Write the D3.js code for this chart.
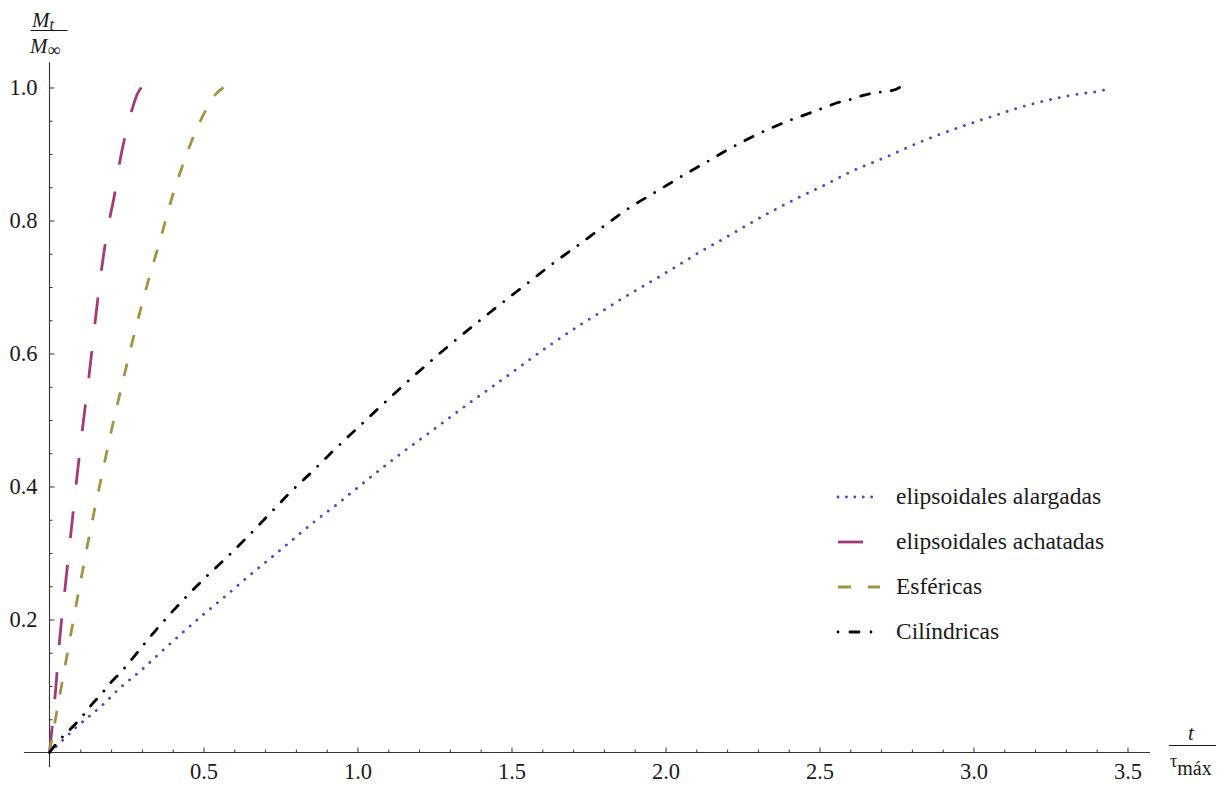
<!DOCTYPE html>
<html>
<head>
<meta charset="utf-8">
<script src="https://cdn.jsdelivr.net/npm/d3@7"></script>
<style>
  html, body { margin: 0; padding: 0; background: #fff; }
  svg { display: block; }
  text { font-family: "Liberation Serif", "Times New Roman", serif; }
</style>
</head>
<body>
<svg id="chart" width="1228" height="789"></svg>
<script>
// ---------------- DATA ----------------
const seriesNames = ["elipsoidales alargadas", "elipsoidales achatadas", "Esféricas", "Cilíndricas"];

// elipsoidales alargadas (blue, dotted)
const alargadasX = [0, 0.025, 0.093, 0.164, 0.229, 0.300, 0.368, 0.506, 0.576, 0.646, 0.717, 0.787, 0.857, 0.930, 1.002, 1.075, 1.148, 1.222, 1.296, 1.369, 1.445, 1.642, 1.723, 1.799, 1.875, 1.956, 2.032, 2.113, 2.194, 2.272, 2.350, 2.434, 2.515, 2.600, 2.714, 2.827, 2.941, 3.057, 3.173, 3.292, 3.352, 3.414, 3.45];
const alargadasY = [0, 0.0105, 0.0405, 0.068, 0.097, 0.1246, 0.1536, 0.210, 0.237, 0.265, 0.292, 0.319, 0.346, 0.372, 0.399, 0.426, 0.452, 0.477, 0.5025, 0.5275, 0.5525, 0.618, 0.643, 0.665, 0.687, 0.709, 0.730, 0.753, 0.774, 0.795, 0.815, 0.835, 0.853, 0.873, 0.895, 0.918, 0.938, 0.956, 0.973, 0.986, 0.991, 0.995, 1.0];

// elipsoidales achatadas (magenta, long dashes)
const achatadasX = [0, 0.01, 0.02, 0.035, 0.05, 0.07, 0.09, 0.11, 0.13, 0.15, 0.17, 0.19, 0.21, 0.23, 0.25, 0.27, 0.285, 0.298];
const achatadasY = [0, 0.045, 0.095, 0.18, 0.245, 0.332, 0.418, 0.498, 0.573, 0.655, 0.73, 0.79, 0.836, 0.893, 0.935, 0.970, 0.99, 1.0];

// Esféricas (olive, dashes)
const esfericasX = [0, 0.02, 0.04, 0.07, 0.10, 0.13, 0.16, 0.20, 0.24, 0.28, 0.32, 0.36, 0.40, 0.44, 0.48, 0.51, 0.54, 0.565];
const esfericasY = [0, 0.052, 0.103, 0.18, 0.255, 0.328, 0.395, 0.482, 0.562, 0.638, 0.708, 0.772, 0.838, 0.893, 0.940, 0.968, 0.990, 1.0];

// Cilíndricas (black, dot-dash)
const cilindricasX = [0, 0.034, 0.069, 0.105, 0.135, 0.170, 0.200, 0.232, 0.267, 0.300, 0.499, 0.570, 0.642, 0.711, 0.779, 0.852, 0.922, 0.993, 1.068, 1.144, 1.300, 1.450, 1.550, 1.642, 1.723, 1.804, 1.886, 1.972, 2.058, 2.145, 2.189, 2.300, 2.400, 2.459, 2.505, 2.551, 2.600, 2.649, 2.698, 2.747, 2.76];
const cilindricasY = [0, 0.0195, 0.0356, 0.0536, 0.071, 0.0886, 0.1056, 0.121, 0.140, 0.159, 0.260, 0.291, 0.324, 0.357, 0.390, 0.422, 0.454, 0.485, 0.5175, 0.550, 0.613, 0.669, 0.705, 0.738, 0.765, 0.793, 0.820, 0.844, 0.868, 0.891, 0.903, 0.930, 0.950, 0.960, 0.968, 0.976, 0.982, 0.989, 0.993, 0.997, 1.0];

const xMajorTicks = [0.5, 1.0, 1.5, 2.0, 2.5, 3.0, 3.5];
const xMinorTicks = [0.1, 0.2, 0.3, 0.4, 0.6, 0.7, 0.8, 0.9, 1.1, 1.2, 1.3, 1.4, 1.6, 1.7, 1.8, 1.9, 2.1, 2.2, 2.3, 2.4, 2.6, 2.7, 2.8, 2.9, 3.1, 3.2, 3.3, 3.4];
const yMajorTicks = [0.2, 0.4, 0.6, 0.8, 1.0];
const yMinorTicks = [0.05, 0.1, 0.15, 0.25, 0.3, 0.35, 0.45, 0.5, 0.55, 0.65, 0.7, 0.75, 0.85, 0.9, 0.95];

// ---------------- CHART ----------------
const svg = d3.select("#chart");
svg.append("rect").attr("width", 1228).attr("height", 789).attr("fill", "#fff");

const x = d3.scaleLinear().domain([0, 3.5]).range([49.5, 49.5 + 308 * 3.5]);
const y = d3.scaleLinear().domain([0, 1]).range([752.5, 87.5]);

const axisColor = "#333";
const labelColor = "#1a1a1a";

// axis lines (extending slightly beyond the data range)
svg.append("line")
  .attr("x1", x(-0.083)).attr("x2", x(3.573))
  .attr("y1", y(0)).attr("y2", y(0))
  .attr("stroke", axisColor).attr("stroke-width", 1.1);
svg.append("line")
  .attr("x1", x(0)).attr("x2", x(0))
  .attr("y1", y(-0.022)).attr("y2", y(1.038))
  .attr("stroke", axisColor).attr("stroke-width", 1.1);

function styleAxis(g) {
  g.select(".domain").remove();
  g.selectAll(".tick line").attr("stroke", axisColor).attr("stroke-width", 1);
  g.selectAll(".tick text")
    .attr("fill", labelColor)
    .style("font-family", '"Liberation Serif", "Times New Roman", serif')
    .style("font-size", "22.5px");
}

// x axis
svg.append("g").attr("transform", `translate(0,${y(0)})`)
  .call(d3.axisBottom(x).tickValues(xMinorTicks).tickSize(-3).tickFormat(""))
  .call(styleAxis);
svg.append("g").attr("transform", `translate(0,${y(0)})`)
  .call(d3.axisBottom(x).tickValues(xMajorTicks).tickSize(-5).tickPadding(11).tickFormat(d3.format(".1f")))
  .call(styleAxis);

// y axis
svg.append("g").attr("transform", `translate(${x(0)},0)`)
  .call(d3.axisLeft(y).tickValues(yMinorTicks).tickSize(-3).tickFormat(""))
  .call(styleAxis);
svg.append("g").attr("transform", `translate(${x(0)},0)`)
  .call(d3.axisLeft(y).tickValues(yMajorTicks).tickSize(-5).tickPadding(12).tickFormat(d3.format(".1f")))
  .call(styleAxis);

// series
const series = [
  { name: seriesNames[0], xs: alargadasX, ys: alargadasY, color: "#4b4bbd", width: 2.9, dash: [0.01, 9], cap: "round", legendDash: "0.01 8.4", legendLen: 42 },
  { name: seriesNames[1], xs: achatadasX, ys: achatadasY, color: "#a03c78", width: 2.8, dash: [27, 27], cap: "butt", legendDash: "25 20", legendLen: 42 },
  { name: seriesNames[2], xs: esfericasX, ys: esfericasY, color: "#a39347", width: 2.8, dash: [13, 17], cap: "butt", legendDash: "13 17", legendLen: 42 },
  { name: seriesNames[3], xs: cilindricasX, ys: cilindricasY, color: "#000000", width: 2.8, dash: [9, 11, 0.01, 11], cap: "round", legendDash: "0.01 12 9 12", legendLen: 34 }
];

const line = d3.line()
  .x(d => x(d[0]))
  .y(d => y(d[1]))
  .curve(d3.curveMonotoneX);

// scale the dash pattern so that each curve ends on a dash, like the original
function fitDash(len, pattern) {
  const period = d3.sum(pattern);
  const first = pattern[0];
  const n = Math.max(1, Math.round((len - first) / period));
  const k = len / (n * period + first);
  return pattern.map(v => (v * k).toFixed(3)).join(" ");
}

series.forEach(s => {
  const pts = s.xs.map((v, i) => [v, s.ys[i]]);
  const p = svg.append("path")
    .datum(pts)
    .attr("d", line)
    .attr("fill", "none")
    .attr("stroke", s.color)
    .attr("stroke-width", s.width)
    .attr("stroke-linecap", s.cap);
  p.attr("stroke-dasharray", fitDash(p.node().getTotalLength(), s.dash));
});

// legend
const legend = svg.append("g");
const legendX0 = 838, legendTextX = 896, legendY0 = 497, legendStep = 45;
series.forEach((s, i) => {
  const ly = legendY0 + i * legendStep;
  legend.append("line")
    .attr("x1", legendX0).attr("x2", legendX0 + s.legendLen)
    .attr("y1", ly).attr("y2", ly)
    .attr("stroke", s.color)
    .attr("stroke-width", s.width)
    .attr("stroke-dasharray", s.legendDash)
    .attr("stroke-linecap", s.cap);
  legend.append("text")
    .attr("x", legendTextX).attr("y", ly + 6.5)
    .attr("fill", labelColor)
    .style("font-size", "23.5px")
    .text(s.name);
});

// y axis label: M_t / M_inf
const yl = svg.append("g");
const ytNum = yl.append("text").attr("x", 32).attr("y", 27).attr("fill", labelColor).style("font-size", "21px");
ytNum.append("tspan").style("font-style", "italic").text("M");
ytNum.append("tspan").style("font-style", "italic").style("font-size", "16px").attr("dy", 3).text("t");
yl.append("line").attr("x1", 30.5).attr("x2", 67.5).attr("y1", 30.5).attr("y2", 30.5)
  .attr("stroke", labelColor).attr("stroke-width", 1.2);
const ytDen = yl.append("text").attr("x", 30).attr("y", 53).attr("fill", labelColor).style("font-size", "21px");
ytDen.append("tspan").style("font-style", "italic").text("M");
ytDen.append("tspan").style("font-size", "18px").attr("dy", 3).text("∞");

// x axis label: t / tau_max
const xl = svg.append("g");
xl.append("text").attr("x", 1191).attr("y", 740).attr("text-anchor", "middle")
  .attr("fill", labelColor).style("font-size", "21px").style("font-style", "italic").text("t");
xl.append("line").attr("x1", 1169).attr("x2", 1216).attr("y1", 745.5).attr("y2", 745.5)
  .attr("stroke", labelColor).attr("stroke-width", 1.2);
const xlDen = xl.append("text").attr("x", 1170).attr("y", 767).attr("fill", labelColor).style("font-size", "18px");
xlDen.append("tspan").text("τ");
xlDen.append("tspan").style("font-size", "20px").attr("dy", 8).text("máx");
</script>
</body>
</html>
